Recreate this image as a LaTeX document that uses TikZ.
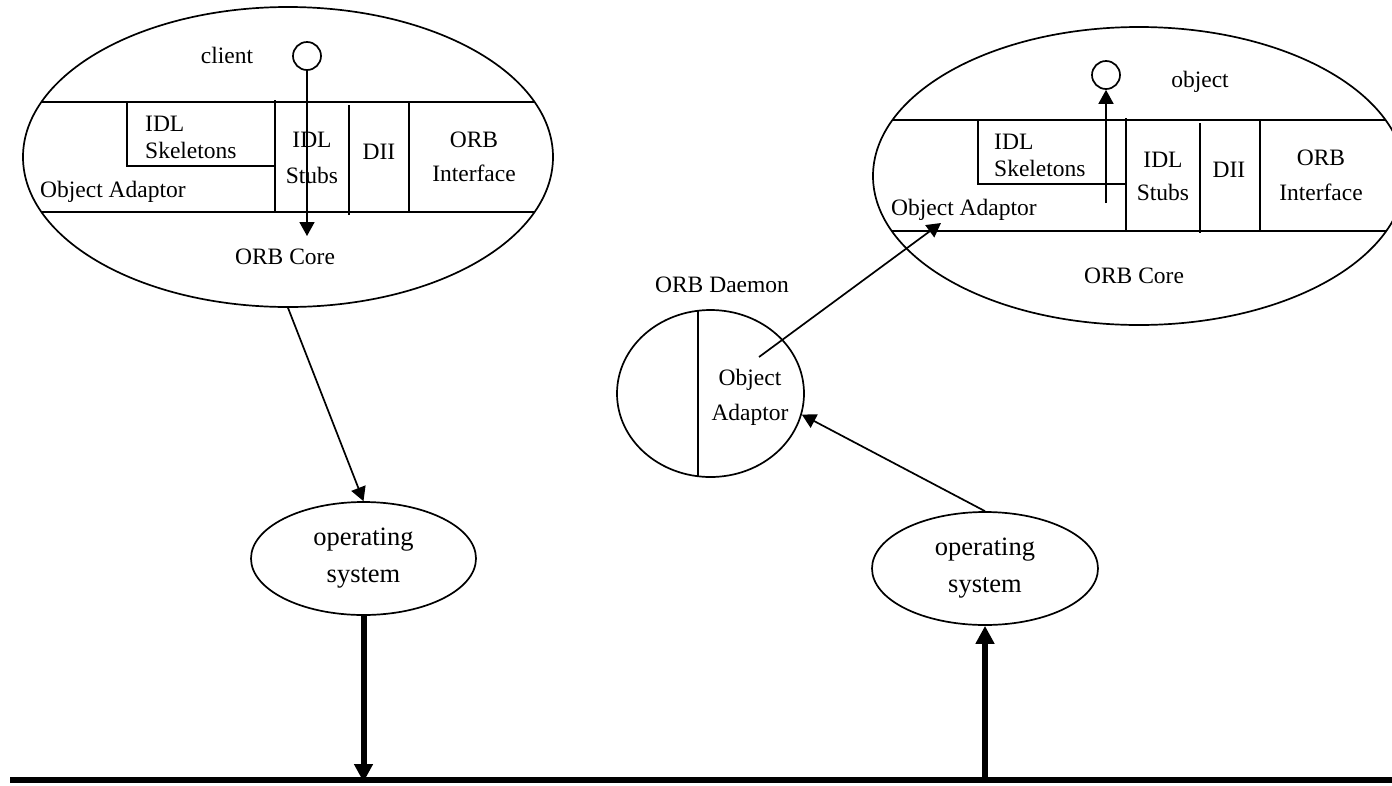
\documentclass[tikz,border=0pt]{standalone}
\usepackage{fontspec}
\setmainfont{Liberation Serif}
\usetikzlibrary{shapes.geometric,arrows.meta}
\begin{document}
\begin{tikzpicture}[x=1pt,y=-1pt,
  every node/.style={font=\fontsize{23.5}{28}\selectfont, inner sep=0pt},
  ln/.style={line width=1.7pt},
  oval/.style={draw, ellipse, line width=1.7pt, inner sep=0pt},
  ring/.style={draw, circle, line width=1.7pt, minimum size=28pt, inner sep=0pt},
  arr/.style={line width=1.7pt, -{Triangle[length=14pt,width=15pt]}},
  heavy/.style={line width=6pt},
  heavyarr/.style={line width=6pt, -{Triangle[length=18pt,width=18pt]}},
  two/.style={align=center, font=\fontsize{23.5}{#1}\selectfont},
  twoleft/.style={align=left, anchor=west, font=\fontsize{23.5}{#1}\selectfont},
  ostext/.style={align=center, font=\fontsize{26.5}{37}\selectfont},
]
\useasboundingbox (0,0) rectangle (1392,785);
\clip (0,0) rectangle (1392,785);

% ---------- client side ----------
\node[oval, minimum width=530pt, minimum height=300pt] (clientE) at (288,157) {};
\draw[ln] (41.4,102) -- (534.6,102);
\draw[ln] (41.4,212) -- (534.6,212);
\draw[ln] (127,102) -- (127,166) -- (275,166);
\draw[ln] (275,100) -- (275,212);
\draw[ln] (349,105) -- (349,215);
\draw[ln] (409,102) -- (409,212);

\node (clientT) at (227,55) {client};
\node[ring] (circL) at (307,56) {};
\node[twoleft=27] (skelL) at (145,137) {IDL\\Skeletons};
\node[anchor=west] (oaL) at (40,192) {Object Adaptor};
\node[two=36] (stubsL) at (312,158) {IDL\\Stubs};
\node (diiL) at (379,152) {DII};
\node[two=34] (ifL) at (474,157) {ORB\\Interface};
\node (coreL) at (285,257) {ORB Core};
\coordinate (tipL) at (307,236);
\draw[arr] (circL.south) -- (tipL);

% ---------- object side ----------
\node[oval, minimum width=532pt, minimum height=298pt] (objectE) at (1139,176) {};
\draw[ln] (892.5,120) -- (1385.5,120);
\draw[ln] (891.8,231) -- (1386.2,231);
\draw[ln] (978,120) -- (978,184) -- (1126,184);
\draw[ln] (1126,118) -- (1126,231);
\draw[ln] (1200,123) -- (1200,233);
\draw[ln] (1260,120) -- (1260,231);

\node (objT) at (1200,82) {object};
\node[ring] (circR) at (1106,75) {};
\node[twoleft=27] (skelR) at (994,155.5) {IDL\\Skeletons};
\node[anchor=west] (oaR) at (891,210) {Object Adaptor};
\node[two=33] (stubsR) at (1163,176.5) {IDL\\Stubs};
\node (diiR) at (1229,170) {DII};
\node[two=35] (ifR) at (1321,175.5) {ORB\\Interface};
\node (coreR) at (1134,276) {ORB Core};
\coordinate (skelRstart) at (1106,203);
\draw[arr] (skelRstart) -- (circR.south);

% ---------- ORB daemon ----------
\node (daemonT) at (722,285) {ORB Daemon};
\node[oval, minimum width=187pt, minimum height=167pt] (daemon) at (710.5,393.5) {};
\draw[ln] (698,310.8) -- (698,476.2);
\node[two=35] (oaD) at (750,397.5) {Object\\Adaptor};
\coordinate (oaDstart) at (759,357);
\coordinate (oaRtip) at (941,223);
\draw[arr] (oaDstart) -- (oaRtip);

% ---------- operating systems ----------
\node[oval, minimum width=225pt, minimum height=113pt, ostext] (osL) at (363.5,558.5) {operating\\system};
\node[oval, minimum width=226pt, minimum height=113pt, ostext] (osR) at (985,568.5) {operating\\system};

\draw[arr] (clientE.south) -- (osL.north);
\draw[arr] (osR.north) -- (daemon.-13);

% ---------- network ----------
\coordinate (busW) at (10,780);
\coordinate (busE) at (1392,780);
\coordinate (busL) at (363.5,782);
\coordinate (busR) at (985,780);
\draw[heavy] (busW) -- (busE);
\draw[heavyarr] (osL.south) -- (busL);
\draw[heavyarr] (busR) -- (osR.south);
\end{tikzpicture}
\end{document}
